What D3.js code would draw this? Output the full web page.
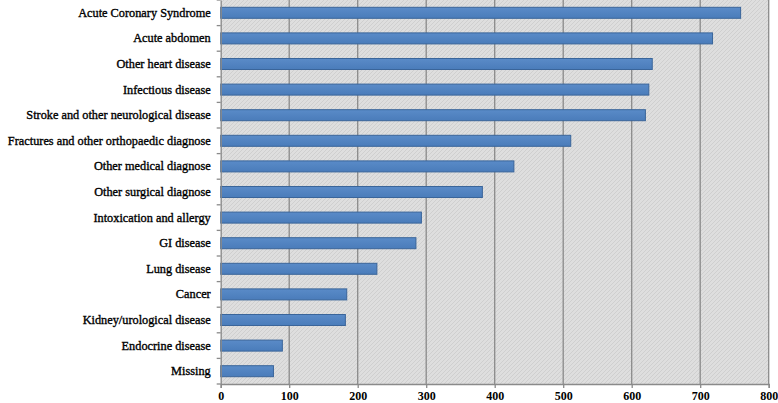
<!DOCTYPE html>
<html><head><meta charset="utf-8">
<script src="https://cdn.jsdelivr.net/npm/d3@7"></script>
<style>body{margin:0;background:#fff}svg{display:block}</style>
</head><body><svg id="c" width="778" height="403"></svg>
<script>
const categories = ["Acute Coronary Syndrome","Acute abdomen","Other heart disease","Infectious disease","Stroke and other neurological disease","Fractures and other orthopaedic diagnose","Other medical diagnose","Other surgical diagnose","Intoxication and allergy","GI disease","Lung disease","Cancer","Kidney/urological disease","Endocrine disease","Missing"];
const values = [759,718,630,625,620,511,428,382,293,285,228,184,182,90,77];
const xTicks = [0,100,200,300,400,500,600,700,800];

const svg = d3.select("#c");
const L = 220.7, R = 768.7, T = 0, B = 384;
const x = d3.scaleLinear().domain([0,800]).range([L,R]);
const y = d3.scaleBand().domain(categories).range([T,B]).paddingInner(0.57).paddingOuter(0.285);

const defs = svg.append("defs");
const pat = defs.append("pattern").attr("id","hatch").attr("patternUnits","userSpaceOnUse").attr("width",4).attr("height",4);
pat.append("rect").attr("width",4).attr("height",4).attr("fill","#dedede");
pat.append("path").attr("d","M0,4 L4,0 M-1,1 L1,-1 M3,5 L5,3").attr("stroke","#cfcfcf").attr("stroke-width",1);
const grad = defs.append("linearGradient").attr("id","bg").attr("x1",0).attr("y1",0).attr("x2",0).attr("y2",1);
grad.append("stop").attr("offset","0%").attr("stop-color","#5a8bc8");
grad.append("stop").attr("offset","100%").attr("stop-color","#4a7cba");

svg.append("rect").attr("x",L).attr("y",T).attr("width",R-L).attr("height",B-T).attr("fill","url(#hatch)");

svg.append("g").selectAll("line").data(xTicks.slice(1)).join("line")
  .attr("x1",d=>x(d)).attr("x2",d=>x(d)).attr("y1",T).attr("y2",B)
  .attr("stroke","#8a8a8a").attr("stroke-width",1.3);

svg.append("g").selectAll("rect").data(categories).join("rect")
  .attr("x",x(0)).attr("y",d=>y(d))
  .attr("width",(d,i)=>x(values[i])-x(0)).attr("height",y.bandwidth())
  .attr("fill","url(#bg)").attr("stroke","#3a659a").attr("stroke-width",1);

const ax = svg.append("g").attr("transform",`translate(0,${B})`)
  .call(d3.axisBottom(x).tickValues(xTicks).tickSize(4).tickPadding(3).tickFormat(d3.format("d")));
ax.selectAll("line,path").attr("stroke","#8a8a8a").attr("stroke-width",1.3);
ax.selectAll("text").attr("font-family","'Liberation Serif', serif").attr("font-weight","bold").attr("font-size","12px").attr("fill","#000");

const ay = svg.append("g").attr("transform",`translate(${L},0)`)
  .call(d3.axisLeft(y).tickSize(0).tickPadding(10));
ay.select("path").attr("stroke","#8a8a8a").attr("stroke-width",1.3);
ay.selectAll("text").attr("font-family","'Liberation Serif', serif").attr("font-weight","normal")
  .attr("font-size","12.3px").attr("fill","#000").attr("stroke","#000").attr("stroke-width",0.35);
// category separator ticks
const sep = d3.range(0,categories.length+1).map(i=>T+i*(B-T)/categories.length);
svg.append("g").selectAll("line").data(sep).join("line")
  .attr("x1",L-4).attr("x2",L).attr("y1",d=>d).attr("y2",d=>d)
  .attr("stroke","#8a8a8a").attr("stroke-width",1.3);
</script></body></html>
